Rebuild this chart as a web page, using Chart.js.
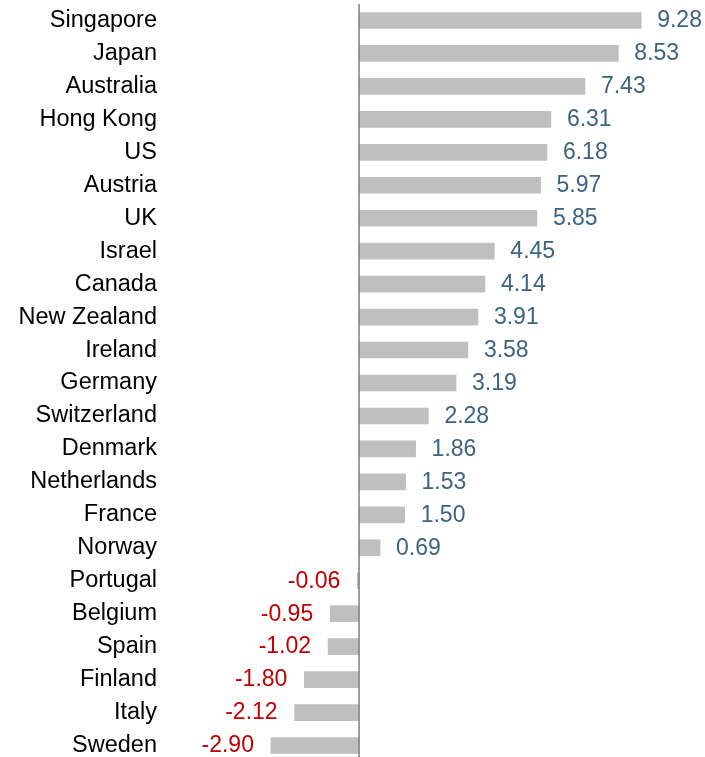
<!DOCTYPE html>
<html>
<head>
<meta charset="utf-8">
<script src="https://cdn.jsdelivr.net/npm/chart.js@4"></script>
<style>
  html, body { margin: 0; padding: 0; background: #fff; overflow: hidden; }
  #wrap { width: 705px; height: 757px; overflow: hidden; }
</style>
</head>
<body>
<div id="wrap"><canvas id="chart" width="705" height="762"></canvas></div>
<script>
const countries = ['Singapore', 'Japan', 'Australia', 'Hong Kong', 'US', 'Austria', 'UK', 'Israel',
  'Canada', 'New Zealand', 'Ireland', 'Germany', 'Switzerland', 'Denmark', 'Netherlands', 'France',
  'Norway', 'Portugal', 'Belgium', 'Spain', 'Finland', 'Italy', 'Sweden'];
const values = [9.28, 8.53, 7.43, 6.31, 6.18, 5.97, 5.85, 4.45, 4.14, 3.91, 3.58, 3.19, 2.28, 1.86,
  1.53, 1.50, 0.69, -0.06, -0.95, -1.02, -1.80, -2.12, -2.90];

const FONT = '"Liberation Sans", Arial, sans-serif';

// zero line + value labels beside each bar
const barLabels = {
  id: 'barLabels',
  afterDatasetsDraw(chart) {
    const ctx = chart.ctx;
    const x = chart.scales.x;
    const area = chart.chartArea;
    const zero = x.getPixelForValue(0);
    ctx.save();
    ctx.strokeStyle = '#808080';
    ctx.lineWidth = 1.5;
    ctx.beginPath();
    ctx.moveTo(zero, area.top);
    ctx.lineTo(zero, area.bottom);
    ctx.stroke();

    ctx.font = '23px ' + FONT;
    ctx.textBaseline = 'middle';
    chart.getDatasetMeta(0).data.forEach((bar, i) => {
      const v = values[i];
      if (v >= 0) {
        ctx.fillStyle = '#3b6480';
        ctx.textAlign = 'left';
        ctx.fillText(v.toFixed(2), bar.x + 16, bar.y + 0.5);
      } else {
        ctx.fillStyle = '#c00000';
        ctx.textAlign = 'right';
        ctx.fillText(v.toFixed(2), bar.x - 17, bar.y + 0.5);
      }
    });
    ctx.restore();
  }
};

new Chart(document.getElementById('chart'), {
  type: 'bar',
  data: {
    labels: countries,
    datasets: [{
      data: values,
      backgroundColor: '#bfbfbf',
      barThickness: 16
    }]
  },
  options: {
    indexAxis: 'y',
    responsive: false,
    animation: false,
    layout: { padding: { top: 4, right: 0, bottom: 0, left: 0 } },
    plugins: { legend: { display: false }, tooltip: { enabled: false } },
    scales: {
      x: { display: false, min: -6.22, max: 11.38 },
      y: {
        grid: { display: false, drawTicks: false },
        border: { display: false },
        ticks: { color: '#000', font: { family: FONT, size: 23.5 }, padding: 13 },
        afterFit(scale) {
          scale.width = 170;
          scale.paddingTop = 0;
          scale.paddingBottom = 0;
        }
      }
    }
  },
  plugins: [barLabels]
});
</script>
</body>
</html>
